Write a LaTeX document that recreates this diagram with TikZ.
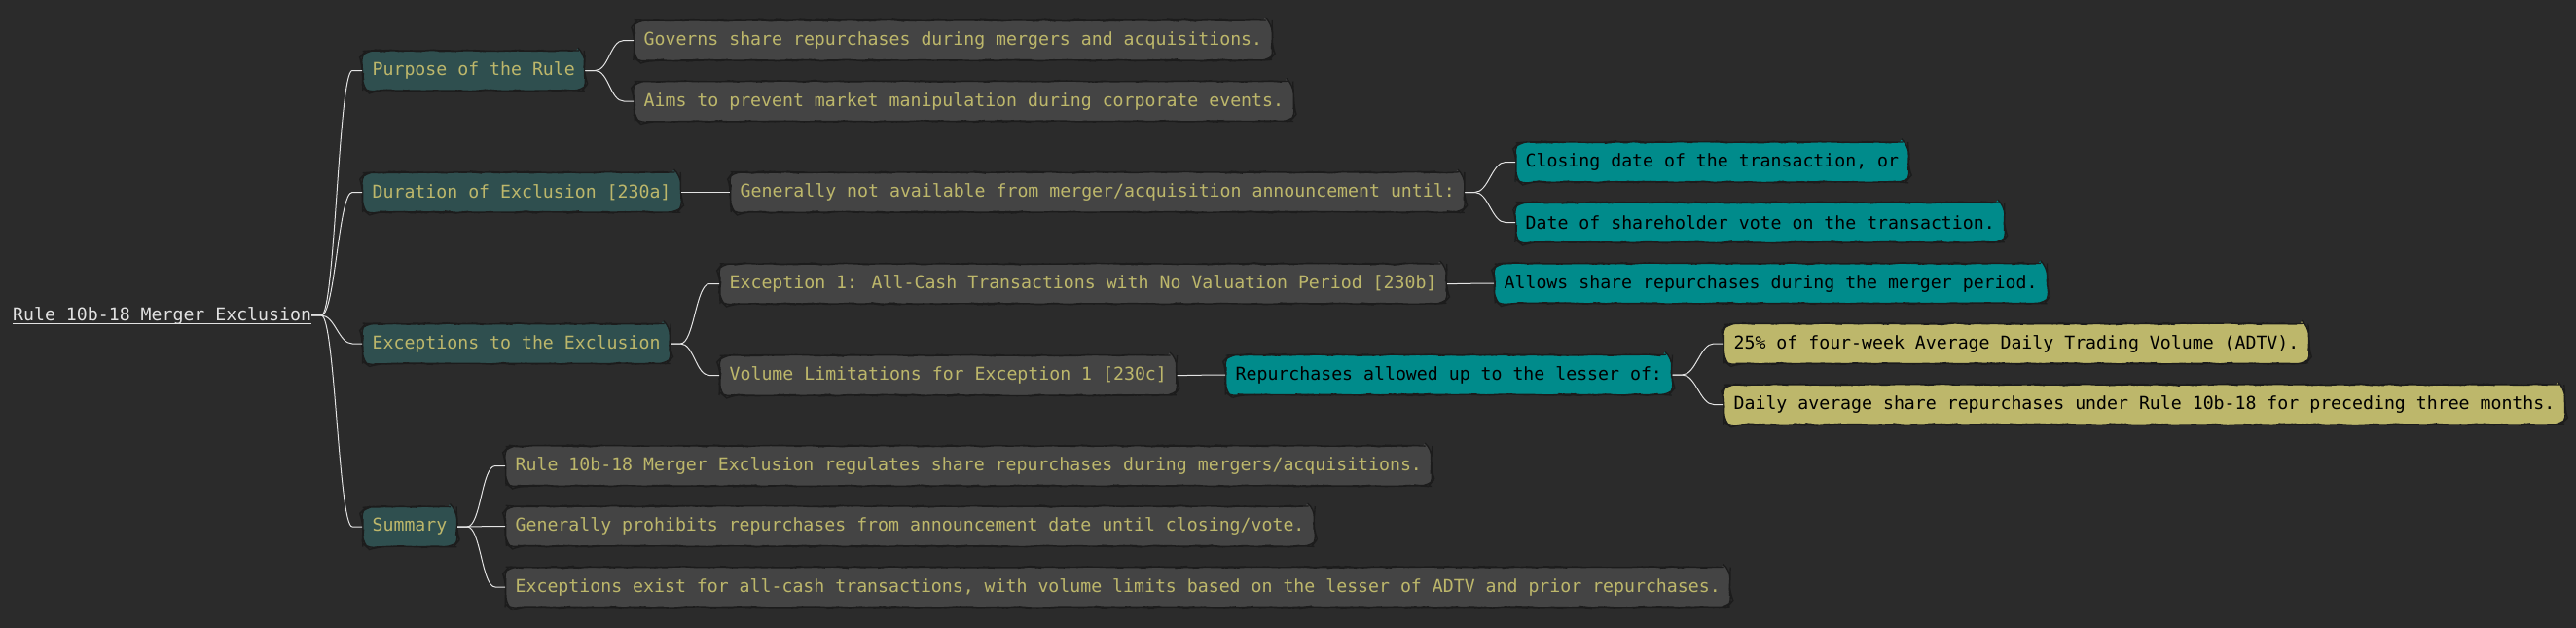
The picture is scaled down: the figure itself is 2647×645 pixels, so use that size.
\documentclass[tikz,border=0pt]{standalone}
\usepackage{fontspec}
\newfontfamily\mm{DejaVu Sans Mono}
\usetikzlibrary{calc,decorations.pathmorphing}
\definecolor{bg}{HTML}{2B2B2B}
\definecolor{lone}{HTML}{2F4F4F}
\definecolor{ltwo}{HTML}{444444}
\definecolor{lthree}{HTML}{008B8B}
\definecolor{khaki}{HTML}{BDB76B}
\definecolor{rim}{HTML}{1C1C1C}
\definecolor{wire}{HTML}{E4E4E4}
\definecolor{roottxt}{HTML}{E2E2E2}
\pgfmathsetseed{7}
\tikzset{
  box/.style={rectangle, rounded corners=9pt, draw=rim, line width=1.3pt,
    minimum height=41pt, inner xsep=10pt, inner ysep=0pt, anchor=west,
    font=\mm\fontsize{18.2}{22}\selectfont,
    decorate, decoration={random steps, segment length=6pt, amplitude=0.6pt}},
  lvone/.style={box, fill=lone, text=khaki},
  lvtwo/.style={box, fill=ltwo, text=khaki},
  lvthree/.style={box, fill=lthree, text=black},
  lvfour/.style={box, fill=khaki, text=black},
  link/.style={draw=wire, line width=1pt}
}
\newcommand\joinup[2]{\draw[link] (#1.east) -- ++(10,0) .. controls +(14,0) and +(-14,0) .. ($(#2.west)+(-10pt,0)$) -- (#2.west);}
\begin{document}
\begin{tikzpicture}[x=1pt,y=-1pt]
\fill[bg] (0,0) rectangle (2647,645);
\useasboundingbox (0,0) rectangle (2647,645);
% root
\node[anchor=base west, inner sep=0pt, text=roottxt, font=\mm\fontsize{18.2}{22}\selectfont] (root) at (13,329) {Rule 10b-18 Merger Exclusion};
\draw[roottxt, line width=1pt] ([yshift=-3.5pt]root.base west) -- ([yshift=-3.5pt]root.base east);
% level 1
\node[lvone] (p1) at (372,72.5) {Purpose of the Rule};
\node[lvone] (d1) at (372,197.5) {Duration of Exclusion [230a]};
\node[lvone] (e1) at (372,353) {Exceptions to the Exclusion};
\node[lvone] (s1) at (372,541) {Summary};
% level 2
\node[lvtwo] (g2) at (651,41.5) {Governs share repurchases during mergers and acquisitions.};
\node[lvtwo] (a2) at (651,104) {Aims to prevent market manipulation during corporate events.};
\node[lvtwo] (n2) at (750,197.5) {Generally not available from merger/acquisition announcement until:};
\node[lvtwo] (x2) at (739,291.5) {Exception 1: All-Cash Transactions with No Valuation Period [230b]};
\node[lvtwo] (v2) at (739,385.5) {Volume Limitations for Exception 1 [230c]};
\node[lvtwo] (r2) at (519,478.5) {Rule 10b-18 Merger Exclusion regulates share repurchases during mergers/acquisitions.};
\node[lvtwo] (gp2) at (519,540.5) {Generally prohibits repurchases from announcement date until closing/vote.};
\node[lvtwo] (ex2) at (519,603) {Exceptions exist for all-cash transactions, with volume limits based on the lesser of ADTV and prior repurchases.};
% level 3
\node[lvthree] (c3) at (1557,166.5) {Closing date of the transaction, or};
\node[lvthree] (dv3) at (1557,228.5) {Date of shareholder vote on the transaction.};
\node[lvthree] (al3) at (1535,291) {Allows share repurchases during the merger period.};
\node[lvthree] (rp3) at (1259,385) {Repurchases allowed up to the lesser of:};
% level 4
\node[lvfour] (t4) at (1771,353) {25\% of four-week Average Daily Trading Volume (ADTV).};
\node[lvfour] (da4) at (1771,415.5) {Daily average share repurchases under Rule 10b-18 for preceding three months.};
% connectors
\joinup{root}{p1}
\joinup{root}{d1}
\joinup{root}{e1}
\joinup{root}{s1}
\joinup{p1}{g2}
\joinup{p1}{a2}
\joinup{d1}{n2}
\joinup{n2}{c3}
\joinup{n2}{dv3}
\joinup{e1}{x2}
\joinup{e1}{v2}
\joinup{x2}{al3}
\joinup{v2}{rp3}
\joinup{rp3}{t4}
\joinup{rp3}{da4}
\joinup{s1}{r2}
\joinup{s1}{gp2}
\joinup{s1}{ex2}
\end{tikzpicture}
\end{document}
